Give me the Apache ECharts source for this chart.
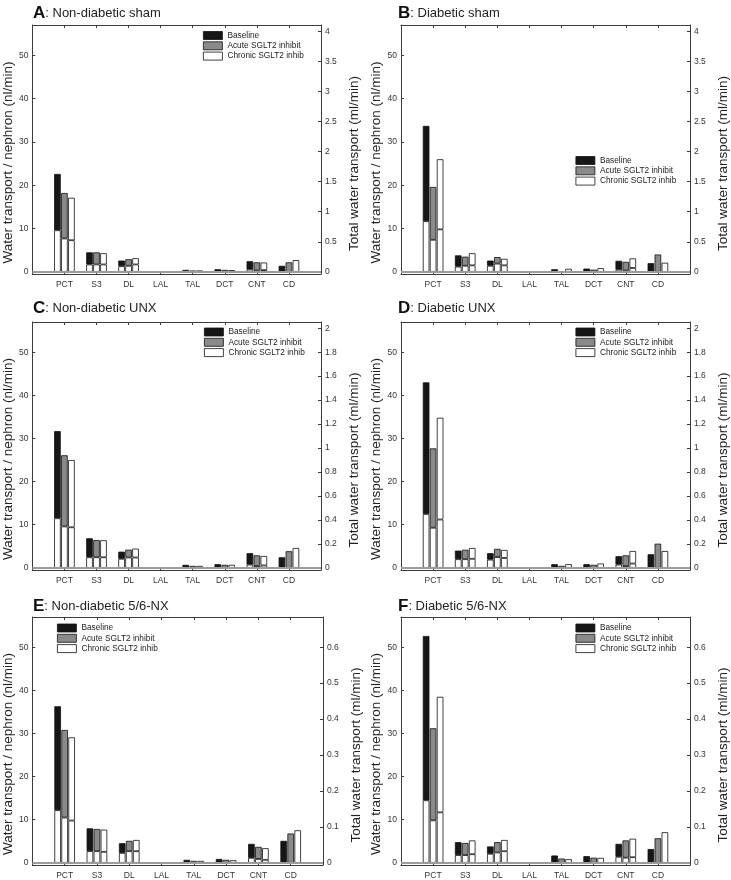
<!DOCTYPE html>
<html><head><meta charset="utf-8">
<script src="https://cdn.jsdelivr.net/npm/echarts@6/dist/echarts.min.js"></script>
<style>html,body{margin:0;padding:0;background:#fff}#c{width:731px;height:880px}</style>
</head><body><div id="c"></div>
<script>
// ---- data ----
const categories = ['PCT','S3','DL','LAL','TAL','DCT','CNT','CD'];
const legendNames = ['Baseline','Acute SGLT2 inhibit','Chronic SGLT2 inhib'];
const leftTicks = [0,10,20,30,40,50];
const shamTicks = [0,0.5,1,1.5,2,2.5,3,3.5,4];
const unxTicks = [0,0.2,0.4,0.6,0.8,1,1.2,1.4,1.6,1.8,2];
const nxTicks = [0,0.1,0.2,0.3,0.4,0.5,0.6];

// Panel A: Non-diabetic sham
const A_baseTotal  = [22.6, 4.5, 2.6, 0, 0.45, 0.6, 2.45, 1.4];
const A_baseLower  = [9.6, 1.7, 1.3, 0, 0, 0, 0.55, 0];
const A_acuteTotal = [18.2, 4.5, 2.9, 0, 0.3, 0.45, 2.2, 2.2];
const A_acuteLower = [7.7, 1.7, 1.4, 0, 0, 0, 0.3, 0];
const A_chronTotal = [17.1, 4.3, 3.15, 0, 0.3, 0.4, 2.15, 2.7];
const A_chronLower = [7.3, 1.7, 1.7, 0, 0, 0, 0.4, 0];
// Panel B: Diabetic sham
const B_baseTotal  = [33.7, 3.8, 2.6, 0, 0.6, 0.75, 2.55, 2.0];
const B_baseLower  = [11.7, 1.2, 1.4, 0, 0, 0, 0.5, 0];
const B_acuteTotal = [19.6, 3.5, 3.4, 0, 0.15, 0.5, 2.3, 4.0];
const B_acuteLower = [7.4, 1.4, 1.9, 0, 0, 0, 0.3, 0];
const B_chronTotal = [26.0, 4.3, 3.0, 0, 0.7, 0.85, 3.1, 2.1];
const B_chronLower = [9.8, 1.5, 1.5, 0, 0, 0, 0.9, 0];
// Panel C: Non-diabetic UNX
const C_baseTotal  = [31.7, 6.85, 3.75, 0, 0.7, 0.85, 3.4, 2.45];
const C_baseLower  = [11.5, 2.45, 2.1, 0, 0, 0, 0.75, 0];
const C_acuteTotal = [26.1, 6.45, 4.2, 0, 0.45, 0.7, 2.9, 3.85];
const C_acuteLower = [9.6, 2.45, 2.4, 0, 0, 0, 0.4, 0];
const C_chronTotal = [25.0, 6.4, 4.45, 0, 0.45, 0.7, 2.75, 4.6];
const C_chronLower = [9.4, 2.45, 2.4, 0, 0, 0, 0.55, 0];
// Panel D: Diabetic UNX
const D_baseTotal  = [43.0, 4.0, 3.4, 0, 0.85, 0.85, 2.7, 3.15];
const D_baseLower  = [12.5, 2.0, 1.9, 0, 0, 0, 0.75, 0];
const D_acuteTotal = [27.7, 4.2, 4.4, 0, 0.45, 0.7, 2.9, 5.6];
const D_acuteLower = [9.3, 2.0, 2.5, 0, 0, 0, 0.4, 0];
const D_chronTotal = [34.8, 4.6, 4.15, 0, 0.85, 1.0, 3.9, 3.9];
const D_chronLower = [11.2, 2.1, 2.3, 0, 0, 0, 1.0, 0];
// Panel E: Non-diabetic 5/6-NX
const E_baseTotal  = [36.3, 8.0, 4.55, 0, 0.7, 0.9, 4.4, 5.1];
const E_baseLower  = [12.2, 2.7, 2.3, 0, 0, 0, 1.15, 0];
const E_acuteTotal = [30.8, 7.85, 5.1, 0, 0.45, 0.7, 3.7, 6.8];
const E_acuteLower = [10.5, 2.7, 2.7, 0, 0, 0, 0.9, 0];
const E_chronTotal = [29.1, 7.7, 5.3, 0, 0.45, 0.6, 3.4, 7.55];
const E_chronLower = [9.8, 2.55, 2.7, 0, 0, 0, 0.7, 0];
// Panel F: Diabetic 5/6-NX
const F_baseTotal  = [52.6, 4.8, 3.8, 0, 1.7, 1.55, 4.4, 3.2];
const F_baseLower  = [14.5, 1.8, 2.1, 0, 0, 0, 1.4, 0];
const F_acuteTotal = [31.2, 4.6, 4.8, 0, 1.0, 1.2, 5.2, 5.7];
const F_acuteLower = [9.85, 1.8, 2.4, 0, 0, 0, 1.2, 0];
const F_chronTotal = [38.5, 5.2, 5.3, 0, 0.85, 1.15, 5.6, 7.1];
const F_chronLower = [11.7, 2.0, 2.7, 0, 0, 0, 1.3, 0];

// ---- layout ----
const FONT = '"Liberation Sans", Arial, Helvetica, sans-serif';
const panels = [
  {key:'A', title:'Non-diabetic sham', grid:{left:31, top:25, width:290, height:249}, factor:0.072, rt:shamTicks, leg:{left:203, top:30.5}, tTop:3, tLeft:33,
   d:[[A_baseTotal,A_baseLower],[A_acuteTotal,A_acuteLower],[A_chronTotal,A_chronLower]]},
  {key:'B', title:'Diabetic sham', grid:{left:401, top:25, width:294, height:249}, factor:0.072, rt:shamTicks, leg:{left:575.5, top:155.5}, tTop:3, tLeft:398,
   d:[[B_baseTotal,B_baseLower],[B_acuteTotal,B_acuteLower],[B_chronTotal,B_chronLower]]},
  {key:'C', title:'Non-diabetic UNX', grid:{left:31, top:322, width:290, height:248}, factor:0.036, rt:unxTicks, leg:{left:204, top:327}, tTop:298, tLeft:33,
   d:[[C_baseTotal,C_baseLower],[C_acuteTotal,C_acuteLower],[C_chronTotal,C_chronLower]]},
  {key:'D', title:'Diabetic UNX', grid:{left:401, top:322, width:294, height:248}, factor:0.036, rt:unxTicks, leg:{left:575.5, top:327}, tTop:298, tLeft:398,
   d:[[D_baseTotal,D_baseLower],[D_acuteTotal,D_acuteLower],[D_chronTotal,D_chronLower]]},
  {key:'E', title:'Non-diabetic 5/6-NX', grid:{left:31, top:617, width:292, height:249}, factor:0.012, rt:nxTicks, leg:{left:57, top:623}, tTop:596, tLeft:33,
   d:[[E_baseTotal,E_baseLower],[E_acuteTotal,E_acuteLower],[E_chronTotal,E_chronLower]]},
  {key:'F', title:'Diabetic 5/6-NX', grid:{left:401, top:617, width:294, height:249}, factor:0.012, rt:nxTicks, leg:{left:575.5, top:623}, tTop:596, tLeft:398,
   d:[[F_baseTotal,F_baseLower],[F_acuteTotal,F_acuteLower],[F_chronTotal,F_chronLower]]}
];
const fills = ['#161616','#8a8a8a','#ffffff'];
const slots = [''].concat(categories, ['']);
const axisColor = '#3c3c3c';
const pad = arr => [null].concat(arr.map(v => (v > 0 ? v : null)), [null]);

const option = {
  backgroundColor:'#fff', animation:false,
  textStyle:{fontFamily:FONT},
  title:[], grid:[], xAxis:[], yAxis:[], legend:[], series:[]
};

panels.forEach((p, i) => {
  option.title.push({
    left:p.tLeft, top:p.tTop, padding:0,
    text:'{b|' + p.key + '}{n|: ' + p.title + '}',
    textStyle:{fontWeight:'normal', rich:{
      b:{fontSize:17, fontWeight:'bold', color:'#111', fontFamily:FONT, lineHeight:20},
      n:{fontSize:13, fontWeight:'normal', color:'#222', fontFamily:FONT, lineHeight:20}
    }}
  });
  option.grid.push(Object.assign({containLabel:false}, p.grid));
  const lineStyle = {color:axisColor, width:1};
  option.xAxis.push({
    type:'category', gridIndex:i, data:slots, boundaryGap:false, position:'bottom',
    axisLine:{show:true, onZero:false, lineStyle},
    axisTick:{show:true, inside:true, length:3, interval:0, lineStyle},
    axisLabel:{fontSize:8.5, color:'#333', margin:6, interval:0, fontFamily:FONT},
    splitLine:{show:false}
  });
  option.xAxis.push({
    type:'category', gridIndex:i, data:slots, boundaryGap:false, position:'top',
    axisLine:{show:true, onZero:false, lineStyle},
    axisTick:{show:true, inside:true, length:3, interval:0, lineStyle},
    axisLabel:{show:false}, splitLine:{show:false}
  });
  option.yAxis.push({
    type:'value', gridIndex:i, position:'left', min:-0.5, max:57,
    axisLine:{show:true, onZero:false, lineStyle},
    axisTick:{show:true, inside:true, length:3, customValues:leftTicks, lineStyle},
    axisLabel:{fontSize:8.5, color:'#333', margin:4, customValues:leftTicks, fontFamily:FONT},
    splitLine:{show:false},
    name:'Water transport / nephron (nl/min)', nameLocation:'middle', nameGap:17, nameRotate:90,
    nameTextStyle:{fontSize:13.5, color:'#222', fontFamily:FONT, padding:[0,26,0,0]}
  });
  const rt = p.rt;
  option.yAxis.push({
    type:'value', gridIndex:i, position:'right', min:-0.5 * p.factor, max:57 * p.factor,
    axisLine:{show:true, onZero:false, lineStyle},
    axisTick:{show:true, inside:true, length:3, customValues:rt, lineStyle},
    axisLabel:{fontSize:8.5, color:'#333', margin:4, customValues:rt, fontFamily:FONT,
      formatter: v => String(+(+v).toFixed(2))},
    splitLine:{show:false},
    name:'Total water transport (ml/min)', nameLocation:'middle', nameGap:26, nameRotate:90,
    nameTextStyle:{fontSize:13.5, color:'#222', fontFamily:FONT, padding:[0,28,0,0]}
  });
  option.legend.push({
    left:p.leg.left, top:p.leg.top, orient:'vertical', padding:0,
    itemWidth:19, itemHeight:8, itemGap:0.3, icon:'rect', selectedMode:false,
    textStyle:{fontSize:8.3, color:'#222', fontFamily:FONT, lineHeight:10},
    data: legendNames.map((n, c) => ({name:n, itemStyle:{color:fills[c], borderColor:'#111', borderWidth:0.8}}))
  });
  p.d.forEach((pair, c) => {
    const total = pair[0], lower = pair[1];
    const stack = 'p' + i + 'c' + c;
    option.series.push({
      type:'bar', name:legendNames[c] + ' lower', stack, xAxisIndex:2*i, yAxisIndex:2*i,
      barWidth:6.6, barGap:'6%', silent:true,
      itemStyle:{color:'#ffffff', borderColor:'#111', borderWidth:0.8},
      data:pad(lower)
    });
    const s = {
      type:'bar', name:legendNames[c], stack, xAxisIndex:2*i, yAxisIndex:2*i,
      barWidth:6.6, barGap:'6%', silent:true,
      itemStyle:{color:fills[c], borderColor:'#111', borderWidth:0.8},
      data:pad(total.map((t, k) => +(t - lower[k]).toFixed(3)))
    };
    if (c === 2) {
      s.markLine = {silent:true, symbol:'none', label:{show:false}, z:5,
        lineStyle:{color:'#9c9c9c', width:2, type:'solid'}, data:[{yAxis:0}]};
    }
    option.series.push(s);
  });
});

const chart = echarts.init(document.getElementById('c'), null, {renderer:'canvas'});
chart.setOption(option);
</script>
</body></html>
